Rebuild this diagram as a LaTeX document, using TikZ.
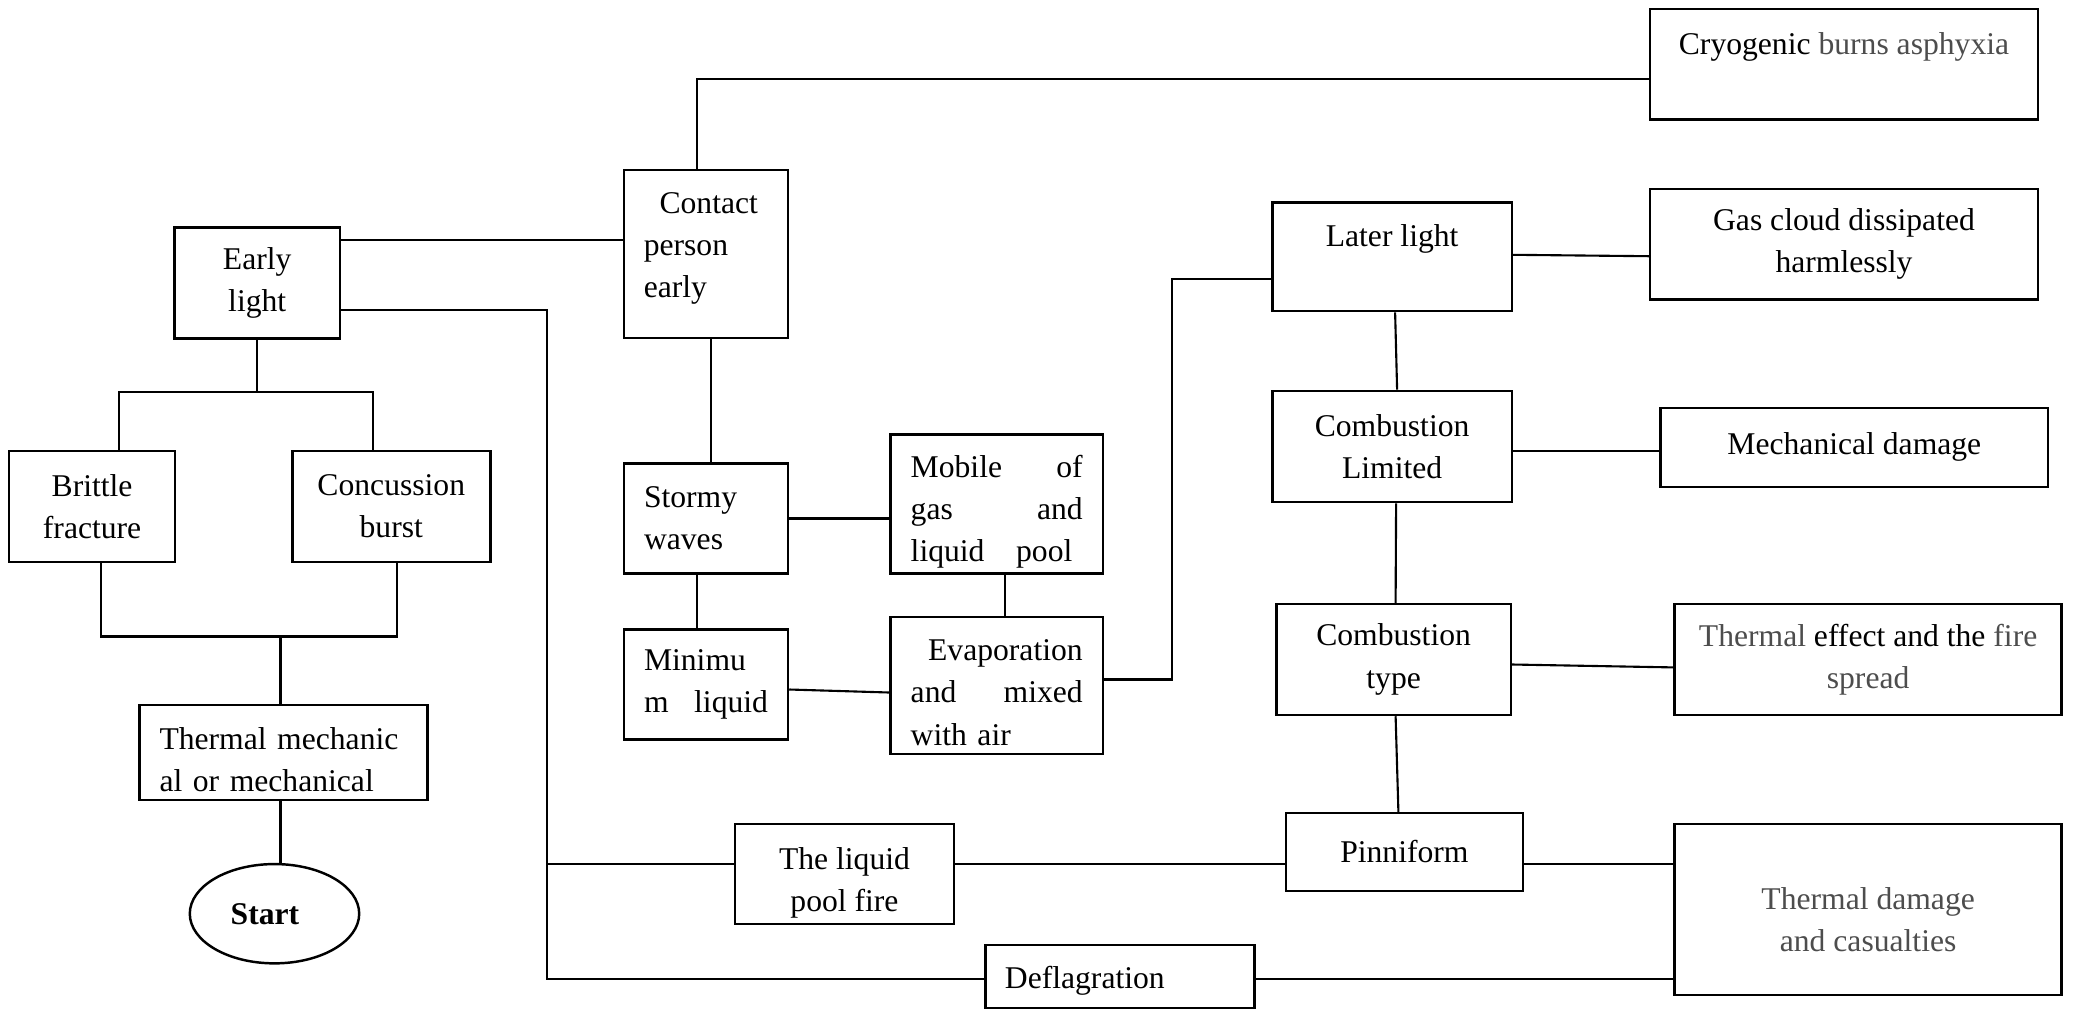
\documentclass[tikz,border=0pt]{standalone}
\usepackage{fontspec}
\setmainfont{Liberation Serif}
\usepackage{xcolor}
\usepackage{tikz}
\usetikzlibrary{shapes.geometric}
\definecolor{fadedtext}{HTML}{4D4D4D}

\begin{document}
\begin{tikzpicture}[font=\fontsize{9}{12}\selectfont,
  box/.style={draw, line width=0.7pt, inner sep=0pt, align=center},
  leftbox/.style={box, align=left},
  every path/.style={line width=0.6pt}]
  \useasboundingbox (0,0) rectangle (20.73,-10.10);
  % left column: early ignition and vessel failure
  \node[box, minimum width=1.653cm, minimum height=1.11cm] (early) at (2.572,-2.829) {Early\\light};
  \node[box, minimum width=1.658cm, minimum height=1.11cm] (brittle) at (0.921,-5.065) {Brittle\\fracture};
  \node[box, minimum width=1.98cm, minimum height=1.11cm] (concussion) at (3.913,-5.065) {Concussion\\burst};
  \node[leftbox, text width=2.48cm, minimum width=2.883cm, minimum height=0.953cm] (thermech) at (2.835,-7.524) {\rule{0pt}{10.5pt}Thermal mechanic\\al or mechanical};
  \node[draw, ellipse, line width=0.7pt, inner sep=0pt, minimum width=1.694cm, minimum height=0.993cm, font=\fontsize{9}{12}\selectfont\bfseries] (start) at (2.745,-9.137) {Start\hspace*{1.9mm}};
  \draw (early.south) -- ++(0,-0.52) coordinate (split);
  \draw ([xshift=2.7mm]brittle.north) |- (split) -| ([xshift=-1.8mm]concussion.north);
  \draw ([xshift=-0.3mm]thermech.north) -- ++(0,0.67) coordinate (merge);
  \draw ([xshift=0.9mm]brittle.south) |- (merge) -| ([xshift=0.6mm]concussion.south);
  \draw ([xshift=-0.3mm]thermech.south) -- ([xshift=-0.3mm]thermech.south |- start.north);
  % middle: contact, waves and evaporation
  \node[leftbox, text width=1.245cm, minimum width=1.645cm, minimum height=1.682cm] (contact) at (7.06,-2.541) {\hspace*{0.5em}Contact\\person\\early\rule[-5pt]{0pt}{5pt}};
  \node[leftbox, text width=1.24cm, minimum width=1.64cm, minimum height=1.103cm] (stormy) at (7.06,-5.185) {Stormy\\waves};
  \node[leftbox, text width=1.24cm, minimum width=1.64cm, minimum height=1.103cm] (minimum) at (7.06,-6.845) {Minimu\\m\hfill liquid};
  \node[leftbox, text width=1.72cm, minimum width=2.127cm, minimum height=1.39cm] (mobile) at (9.967,-5.041) {\rule{0pt}{10.6pt}Mobile\hfill of\\gas\hfill and\\liquid\hspace{1em}pool};
  \node[leftbox, text width=1.72cm, minimum width=2.127cm, minimum height=1.365cm] (evap) at (9.967,-6.855) {\rule{0pt}{10pt}\hspace*{\fill}Evaporation\\and\hfill mixed\\with air};
  \node[box, minimum width=2.19cm, minimum height=0.997cm] (pool) at (8.445,-8.739) {\rule{0pt}{11.4pt}The liquid\\pool fire};
  \node[leftbox, text width=2.3cm, minimum width=2.688cm, minimum height=0.63cm] (deflag) at (11.199,-9.765) {\rule{0pt}{9pt}Deflagration};
  \draw ([yshift=4.3mm]early.east) -- ([yshift=4.3mm]early.east -| contact.west);
  \draw ([xshift=0.5mm]contact.south) -- ([xshift=0.5mm]stormy.north);
  \draw (stormy.east) -- (stormy.east -| mobile.west);
  \draw ([xshift=-0.9mm]stormy.south) -- ([xshift=-0.9mm]minimum.north);
  \draw ([yshift=-0.5mm]minimum.east) -- ([yshift=-0.7mm]evap.west);
  \draw ([xshift=0.8mm]mobile.south) -- ([xshift=0.8mm]evap.north);
  % right column: later ignition and outcomes
  \node[box, minimum width=2.394cm, minimum height=1.085cm] (later) at (13.921,-2.568) {Later light\\\mbox{}};
  \node[box, minimum width=2.394cm, minimum height=1.113cm] (comblim) at (13.921,-4.464) {Combustion\\Limited};
  \node[box, minimum width=2.347cm, minimum height=1.11cm] (combtype) at (13.936,-6.595) {Combustion\\type};
  \node[box, minimum width=2.372cm, minimum height=0.78cm] (pinni) at (14.044,-8.52) {Pinniform};
  \node[box, minimum width=3.88cm, minimum height=1.103cm] (cryo) at (18.44,-0.642) {Cryogenic {\color{fadedtext}burns asphyxia}\\\mbox{}};
  \node[box, minimum width=3.88cm, minimum height=1.103cm] (gas) at (18.44,-2.442) {Gas cloud dissipated\\harmlessly};
  \node[box, minimum width=3.875cm, minimum height=0.787cm] (mech) at (18.543,-4.474) {Mechanical damage};
  \node[box, minimum width=3.87cm, minimum height=1.107cm] (theff) at (18.681,-6.594) {{\color{fadedtext}Thermal} effect and the {\color{fadedtext}fire}\\{\color{fadedtext}spread}};
  \node[box, minimum width=3.87cm, minimum height=1.71cm, text=fadedtext] (thdmg) at (18.681,-9.095) {\rule{0pt}{12.2pt}Thermal damage\\and casualties};
  \draw ([xshift=-0.9mm]contact.north) |- ([yshift=-1.5mm]cryo.west);
  \draw ([yshift=0.6mm]evap.east) -- ++(0.68,0) |- ([yshift=-2.2mm]later.west);
  \draw ([yshift=0.2mm]later.east) -- ([yshift=-1.2mm]gas.west);
  \draw ([xshift=0.3mm]later.south) -- ([xshift=0.5mm]comblim.north);
  \draw ([yshift=-0.5mm]comblim.east) -- ([yshift=-0.5mm]comblim.east -| mech.west);
  \draw ([xshift=0.4mm]comblim.south) -- ([xshift=0.2mm]combtype.north);
  \draw ([yshift=-0.5mm]combtype.east) -- ([yshift=-0.8mm]theff.west);
  \draw ([xshift=0.2mm]combtype.south) -- ([xshift=-0.6mm]pinni.north);
  % bottom bus from early light
  \coordinate (bus) at (5.47,-9.79);
  \coordinate (pooljoin) at (5.47,-8.64);
  \draw ([yshift=-2.7mm]early.east) -| (bus) -- (bus -| deflag.west);
  \draw (deflag.east |- bus) -- (thdmg.west |- bus);
  \draw (pooljoin) -- (pooljoin -| pool.west);
  \draw (pooljoin -| pool.east) -- (pooljoin -| pinni.west);
  \draw (pooljoin -| pinni.east) -- (pooljoin -| thdmg.west);
\end{tikzpicture}
\end{document}
